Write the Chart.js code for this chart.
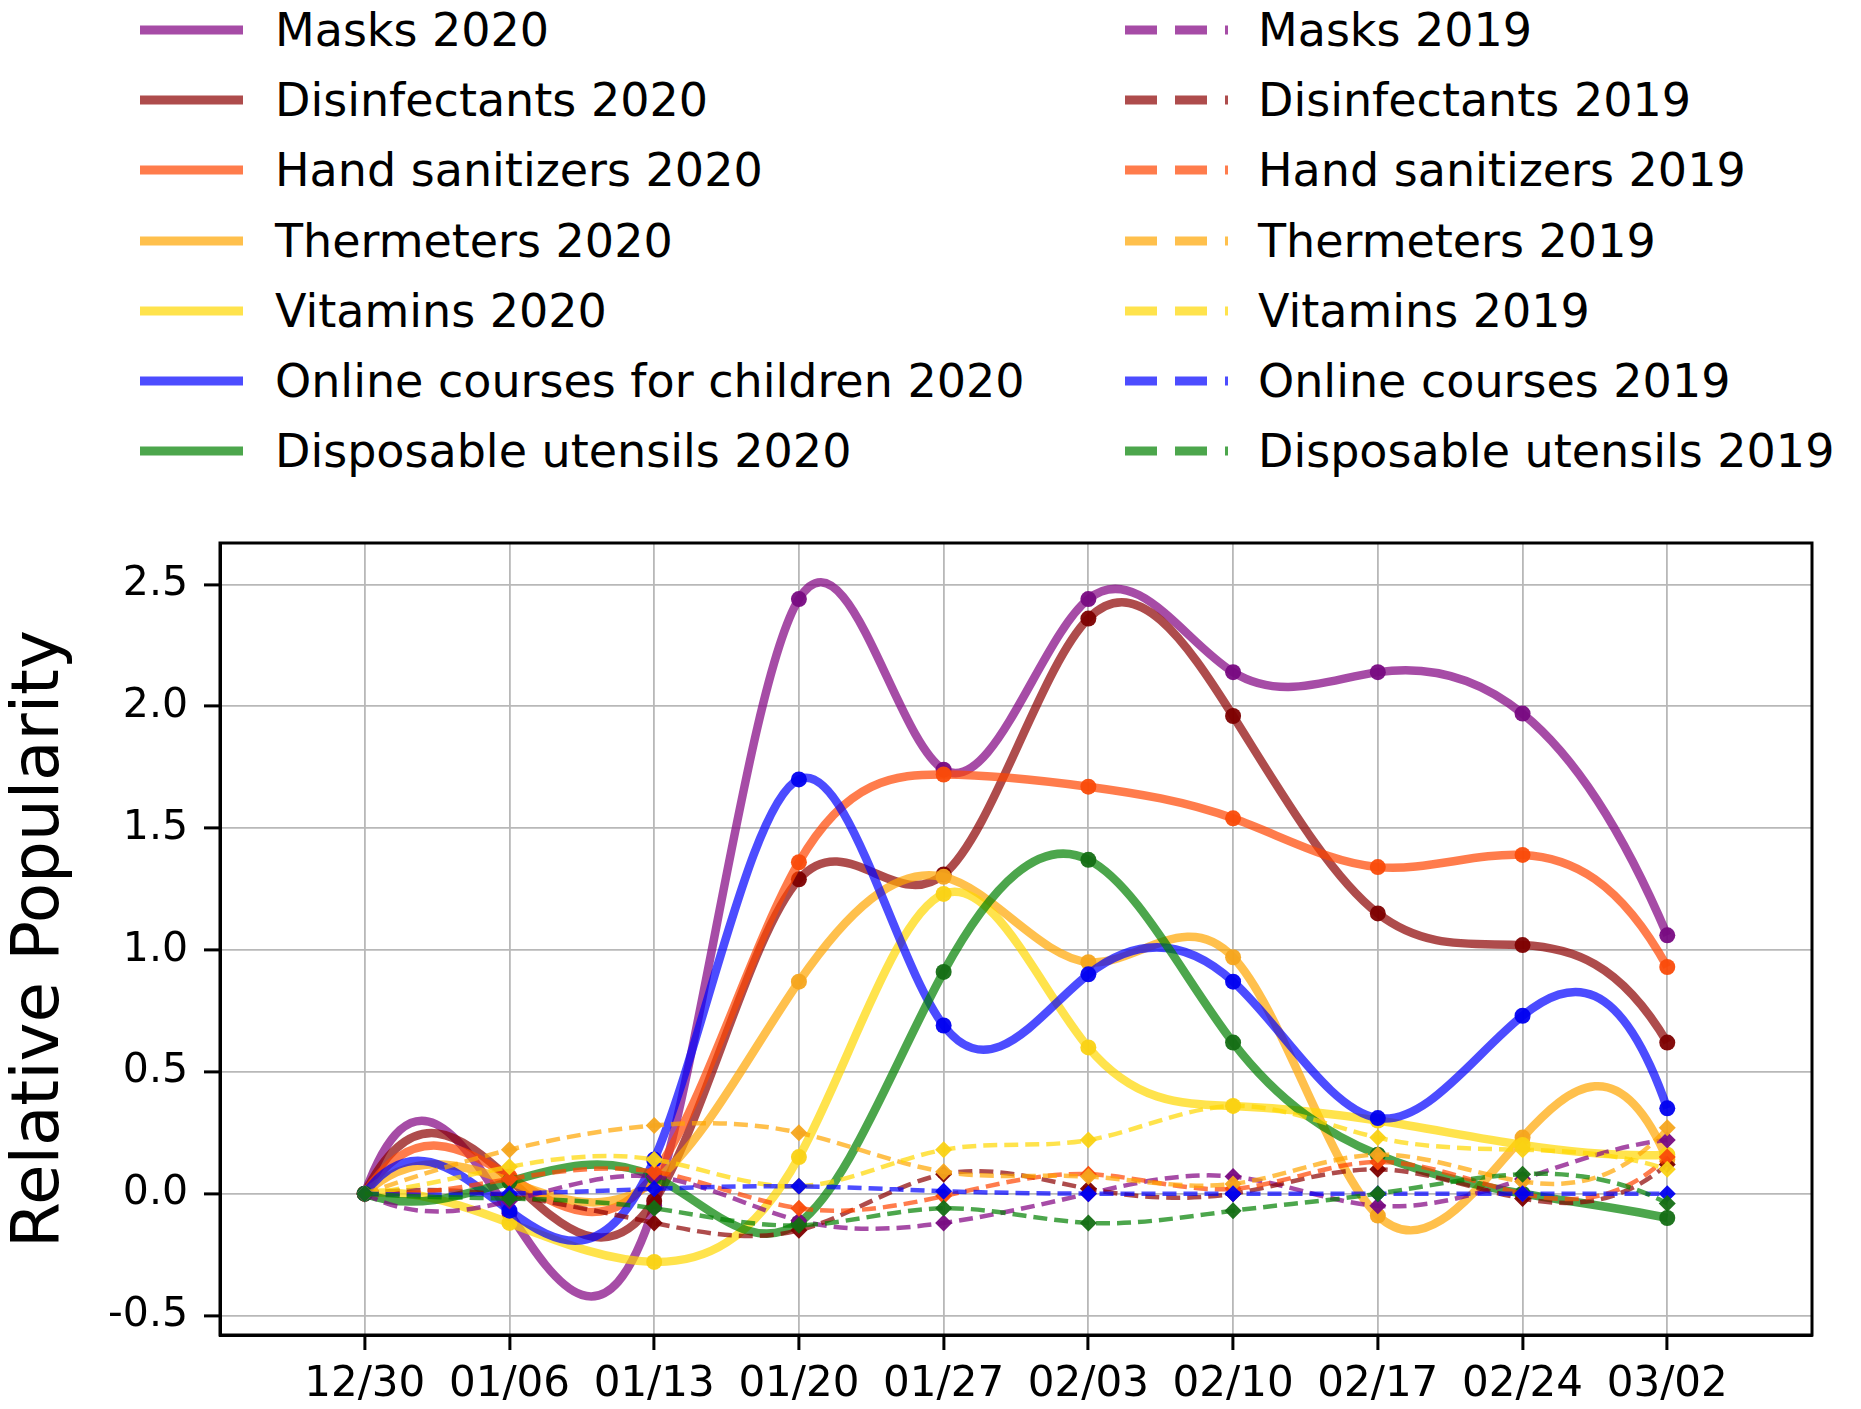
<!DOCTYPE html>
<html><head><meta charset="utf-8">
<script src="https://cdn.jsdelivr.net/npm/chart.js@4.4.1/dist/chart.umd.min.js"></script>
<style>
html,body{margin:0;padding:0;background:#fff;width:1861px;height:1409px;overflow:hidden;font-family:'DejaVu Sans',sans-serif;}
#legend{position:absolute;left:0;top:0;width:1861px;height:480px;}
.item{position:absolute;height:46px;white-space:nowrap;}
.item svg{position:absolute;left:0;top:0;}
.item span{position:absolute;top:0;font-size:46px;line-height:46px;color:#000;font-family:'DejaVu Sans',sans-serif;}
#wrap{position:absolute;left:0;top:480px;width:1861px;height:929px;}
</style></head><body>
<div id="legend"></div>
<div id="wrap"><canvas id="c" width="1861" height="929"></canvas></div>
<script>
// ---- data ----
const categories = ['12/30','01/06','01/13','01/20','01/27','02/03','02/10','02/17','02/24','03/02'];
const yTicks = [-0.5, 0, 0.5, 1, 1.5, 2, 2.5];
const yTickLabels = ['-0.5','0.0','0.5','1.0','1.5','2.0','2.5'];

const labels2020 = ['Masks 2020','Disinfectants 2020','Hand sanitizers 2020','Thermeters 2020','Vitamins 2020','Online courses for children 2020','Disposable utensils 2020'];
const labels2019 = ['Masks 2019','Disinfectants 2019','Hand sanitizers 2019','Thermeters 2019','Vitamins 2019','Online courses 2019','Disposable utensils 2019'];

const masks2020   = [0, -0.08, -0.05, 2.44, 1.74, 2.44, 2.14, 2.14, 1.97, 1.06];
const disinf2020  = [0, 0.06, -0.03, 1.29, 1.31, 2.36, 1.96, 1.15, 1.02, 0.62];
const hand2020    = [0, 0.07, 0.08, 1.36, 1.72, 1.67, 1.54, 1.34, 1.39, 0.93];
const therm2020   = [0, 0.05, 0.05, 0.87, 1.30, 0.95, 0.97, -0.09, 0.23, 0.14];
const vit2020     = [0, -0.12, -0.28, 0.15, 1.23, 0.60, 0.36, 0.30, 0.20, 0.16];
const online2020  = [0, -0.07, 0.14, 1.70, 0.69, 0.90, 0.87, 0.31, 0.73, 0.35];
const disp2020    = [0, 0.05, 0.07, -0.12, 0.91, 1.37, 0.62, 0.16, 0.00, -0.10];

const masks2019   = [0, -0.03, 0.07, -0.11, -0.12, 0.00, 0.07, -0.05, 0.06, 0.22];
const disinf2019  = [0, -0.01, -0.12, -0.15, 0.08, 0.02, 0.00, 0.10, -0.02, 0.12];
const hand2019    = [0, 0.06, 0.09, -0.06, -0.01, 0.08, 0.02, 0.13, 0.00, 0.15];
const therm2019   = [0, 0.18, 0.28, 0.25, 0.09, 0.07, 0.04, 0.16, 0.05, 0.27];
const vit2019     = [0, 0.11, 0.14, 0.03, 0.18, 0.22, 0.36, 0.23, 0.18, 0.10];
const online2019  = [0, 0.00, 0.02, 0.03, 0.01, 0.00, 0.00, 0.00, 0.00, 0.00];
const disp2019    = [0, -0.02, -0.06, -0.13, -0.06, -0.12, -0.07, 0.00, 0.08, -0.04];

const series2020 = [masks2020, disinf2020, hand2020, therm2020, vit2020, online2020, disp2020];
const series2019 = [masks2019, disinf2019, hand2019, therm2019, vit2019, online2019, disp2019];

// ---- styles ----
const baseColors = [[128,0,128],[139,0,0],[255,69,0],[255,165,0],[255,215,0],[0,0,255],[0,128,0]];
const markColors = [[120,10,130],[125,0,0],[250,75,10],[245,165,30],[250,210,20],[0,0,240],[20,110,20]];
const rgba = (c,a) => `rgba(${c[0]},${c[1]},${c[2]},${a})`;
const LINE_ALPHA = 0.7, MARK_ALPHA = 0.95;
const SOLID_W = 8.5, DASH_W = 4.5, DASH = [14, 7];

const datasets = [];
const N = 14;
series2020.forEach((vals, k) => datasets.push({
  label: labels2020[k],
  data: vals.map((v, i) => ({x: i, y: v})),
  showLine: false,
  lineColor: rgba(baseColors[k], LINE_ALPHA), lineW: SOLID_W, lineDash: [],
  pointStyle: 'circle', pointRadius: 8, pointBorderWidth: 0,
  pointBackgroundColor: rgba(markColors[k], MARK_ALPHA), pointBorderColor: rgba(markColors[k], MARK_ALPHA),
  order: N - datasets.length
}));
series2019.forEach((vals, k) => datasets.push({
  label: labels2019[k],
  data: vals.map((v, i) => ({x: i, y: v})),
  showLine: false,
  lineColor: rgba(baseColors[k], LINE_ALPHA), lineW: DASH_W, lineDash: DASH,
  pointStyle: 'rectRot', pointRadius: 8.5, pointBorderWidth: 0,
  pointBackgroundColor: rgba(markColors[k], MARK_ALPHA), pointBorderColor: rgba(markColors[k], MARK_ALPHA),
  order: N - datasets.length
}));

// ---- HTML legend (two columns) ----
const legend = document.getElementById('legend');
function addLegendItem(ds, colX, row) {
  const cy = 30 + row * 70.2;
  const el = document.createElement('div');
  el.className = 'item';
  el.style.left = colX + 'px';
  el.style.top = (cy - 23) + 'px';
  const dash = ds.lineDash.length ? `stroke-dasharray="32 18"` : '';
  el.innerHTML = `<svg width="110" height="46"><line x1="0" y1="23" x2="103" y2="23" stroke="${ds.lineColor}" stroke-width="9" ${dash}/></svg><span style="left:${colX < 600 ? 135 : 133}px">${ds.label}</span>`;
  legend.appendChild(el);
}
for (let k = 0; k < 7; k++) {
  addLegendItem(datasets[k], 140, k);
  addLegendItem(datasets[7 + k], 1125, k);
}

// ---- not-a-knot cubic spline drawn through the library-computed points ----
function splineM(xs, ys) {
  const n = xs.length;
  const h = [], d = [];
  for (let i = 0; i < n - 1; i++) { h.push(xs[i+1] - xs[i]); d.push((ys[i+1] - ys[i]) / h[i]); }
  const A = Array.from({length: n}, () => new Array(n).fill(0));
  const b = new Array(n).fill(0);
  A[0][0] = h[1]; A[0][1] = -(h[0] + h[1]); A[0][2] = h[0];
  for (let i = 1; i < n - 1; i++) {
    A[i][i-1] = h[i-1]; A[i][i] = 2 * (h[i-1] + h[i]); A[i][i+1] = h[i];
    b[i] = 6 * (d[i] - d[i-1]);
  }
  A[n-1][n-3] = h[n-2]; A[n-1][n-2] = -(h[n-3] + h[n-2]); A[n-1][n-1] = h[n-3];
  for (let c = 0; c < n; c++) {
    let p = c;
    for (let r = c + 1; r < n; r++) if (Math.abs(A[r][c]) > Math.abs(A[p][c])) p = r;
    [A[c], A[p]] = [A[p], A[c]]; [b[c], b[p]] = [b[p], b[c]];
    for (let r = c + 1; r < n; r++) {
      const f = A[r][c] / A[c][c];
      if (!f) continue;
      for (let k = c; k < n; k++) A[r][k] -= f * A[c][k];
      b[r] -= f * b[c];
    }
  }
  const M = new Array(n).fill(0);
  for (let r = n - 1; r >= 0; r--) {
    let s = b[r];
    for (let k = r + 1; k < n; k++) s -= A[r][k] * M[k];
    M[r] = s / A[r][r];
  }
  return M;
}
const splinePlugin = {
  id: 'spline',
  beforeDatasetDraw(chart, args) {
    const ds = chart.data.datasets[args.index];
    const pts = args.meta.data;
    if (!pts || pts.length < 4) return;
    const xs = pts.map(p => p.x), ys = pts.map(p => p.y);
    const M = splineM(xs, ys);
    const ctx = chart.ctx, a = chart.chartArea;
    ctx.save();
    ctx.beginPath(); ctx.rect(a.left, a.top, a.right - a.left, a.bottom - a.top); ctx.clip();
    ctx.beginPath();
    ctx.moveTo(xs[0], ys[0]);
    for (let i = 0; i < xs.length - 1; i++) {
      const h = xs[i+1] - xs[i];
      const dd = (ys[i+1] - ys[i]) / h;
      const s0 = dd - h * (2 * M[i] + M[i+1]) / 6;
      const s1 = dd + h * (M[i] + 2 * M[i+1]) / 6;
      ctx.bezierCurveTo(xs[i] + h/3, ys[i] + s0 * h/3, xs[i+1] - h/3, ys[i+1] - s1 * h/3, xs[i+1], ys[i+1]);
    }
    ctx.strokeStyle = ds.lineColor;
    ctx.lineWidth = ds.lineW;
    ctx.setLineDash(ds.lineDash);
    ctx.lineCap = 'butt';
    ctx.lineJoin = 'round';
    ctx.stroke();
    ctx.restore();
  }
};
const framePlugin = {
  id: 'frame',
  afterDraw(chart) {
    const a = chart.chartArea, ctx = chart.ctx;
    ctx.save();
    ctx.strokeStyle = '#000'; ctx.lineWidth = 3;
    ctx.strokeRect(a.left, a.top, a.right - a.left, a.bottom - a.top);
    ctx.restore();
  }
};

Chart.defaults.font.family = "'DejaVu Sans', sans-serif";
Chart.defaults.color = '#000';

new Chart(document.getElementById('c'), {
  type: 'line',
  data: { datasets },
  plugins: [splinePlugin, framePlugin],
  options: {
    responsive: false,
    animation: false,
    devicePixelRatio: 1,
    layout: { padding: { top: 63, right: 49, bottom: 0, left: 0 } },
    plugins: { legend: { display: false }, tooltip: { enabled: false } },
    scales: {
      x: {
        type: 'linear', min: -1, max: 10,
        afterBuildTicks: s => { s.ticks = categories.map((_, i) => ({ value: i })); },
        afterFit: s => { s.height = 74; },
        ticks: { autoSkip: false, maxRotation: 0, font: { size: 42 }, padding: 10,
                 callback: v => categories[v] },
        grid: { color: '#b8b8b8', lineWidth: 1.8, tickColor: '#000', tickWidth: 3, tickLength: 15 },
        border: { display: true, color: '#000', width: 3 }
      },
      y: {
        min: -0.58, max: 2.67,
        afterBuildTicks: s => { s.ticks = yTicks.map(v => ({ value: v })); },
        afterFit: s => { s.width = 220; },
        ticks: { font: { size: 41 }, padding: 16,
                 callback: v => yTickLabels[yTicks.indexOf(v)] },
        grid: { color: '#b8b8b8', lineWidth: 1.8, tickColor: '#000', tickWidth: 3, tickLength: 16 },
        border: { display: true, color: '#000', width: 3 },
        title: { display: true, text: 'Relative Popularity', font: { size: 66 }, padding: { top: 1, bottom: 0 } }
      }
    }
  }
});
</script>
</body></html>
